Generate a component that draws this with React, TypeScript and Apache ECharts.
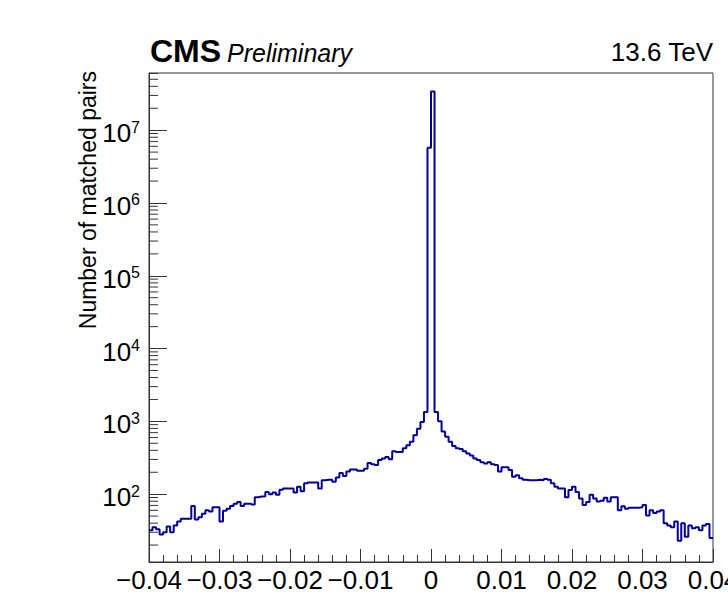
import React, { useEffect, useRef } from "react";
import * as echarts from "echarts";

// ---- data ----
const xMin = -0.04;
const xMax = 0.04;
const binWidth = 0.0005;
const xTickStep = 0.01;
const yMin = 11.7;
const yMax = 6.1e7;

// bins from -0.04 up to [0, 0.0005] (81 values)
const leftCounts = [
  32, 35, 33, 28, 30, 36, 30, 37, 42, 46,
  46, 46, 69, 45, 48, 54, 60, 58, 66, 66,
  42, 59, 63, 69, 74, 78, 69, 74, 74, 72,
  91, 93, 93, 107, 100, 105, 98, 115, 120, 120,
  120, 105, 126, 110, 141, 145, 145, 145, 120, 155,
  158, 158, 148, 170, 195, 178, 204, 219, 219, 209,
  209, 224, 269, 257, 251, 295, 309, 324, 302, 389,
  380, 380, 427, 468, 525, 646, 794, 977, 1349, 5750000,
  33900000,
];
// bins from 0.0005 to 0.04 (79 values)
const rightCounts = [
  1349, 1000, 724, 617, 525, 457, 427, 417, 389, 363,
  339, 309, 295, 275, 263, 275, 257, 251, 204, 234,
  234, 214, 174, 182, 166, 158, 155, 155, 155, 158,
  155, 162, 158, 141, 126, 120, 120, 91, 114, 126,
  107, 87, 71, 78, 98, 87, 79, 81, 89, 79,
  91, 91, 60, 68, 63, 65, 65, 65, 66, 71,
  51, 60, 55, 58, 60, 40, 37, 35, 42, 23,
  40, 26, 37, 34, 35, 32, 37, 39, 25,
];
const counts = [...leftCounts, ...rightCounts];

const yTitle = "Number of matched pairs";
const expText = "CMS";
const statusText = "Preliminary";
const energyText = "13.6 TeV";

const FONT = "'Liberation Sans', Arial, Helvetica, sans-serif";

export default function App() {
  const ref = useRef<HTMLDivElement>(null);

  useEffect(() => {
    if (!ref.current) return;
    const chart = echarts.init(ref.current, null, { renderer: "svg" });

    const stepData: [number, number][] = counts.map((v, i) => [xMin + i * binWidth, v]);
    stepData.push([xMax, counts[counts.length - 1]]);

    const minorTicks: [number, number][] = [];
    for (let e = 1; e <= 7; e++) {
      for (let m = 2; m <= 9; m++) {
        const v = m * Math.pow(10, e);
        if (v > yMin && v < yMax) minorTicks.push([xMin, v]);
      }
    }

    const option: any = {
      animation: false,
      backgroundColor: "#ffffff",
      grid: {
        left: 149,
        top: 73,
        width: 564,
        height: 489,
        show: true,
        borderColor: "#333",
        borderWidth: 1,
        backgroundColor: "transparent",
        containLabel: false,
        outerBoundsMode: "none",
      },
      xAxis: {
        type: "value",
        min: xMin,
        max: xMax,
        interval: xTickStep,
        axisLine: { show: true, onZero: false, lineStyle: { color: "#333", width: 1 } },
        axisTick: { show: true, inside: true, length: 13, lineStyle: { color: "#333" } },
        minorTick: { show: true, splitNumber: 5, length: 7, lineStyle: { color: "#333" } },
        splitLine: { show: false },
        axisLabel: {
          show: true,
          margin: 5,
          color: "#000",
          fontFamily: FONT,
          fontSize: 26,
          showMinLabel: true,
          showMaxLabel: true,
          hideOverlap: false,
          formatter: (v: number) => {
            if (Math.abs(v) < 1e-9) return "0";
            return (v < 0 ? "\u2212" : "") + Math.abs(v).toFixed(2);
          },
        },
      },
      yAxis: {
        type: "log",
        logBase: 10,
        min: yMin,
        max: yMax,
        axisLine: { show: true, onZero: false, lineStyle: { color: "#333", width: 1 } },
        axisTick: { show: true, inside: true, length: 18, lineStyle: { color: "#333" } },
        minorTick: { show: false },
        splitLine: { show: false },
        axisLabel: {
          show: true,
          margin: 9,
          showMinLabel: false,
          showMaxLabel: false,
          padding: [6, 0, 0, 0],
          formatter: (v: number) => {
            const l = Math.log10(v);
            const e = Math.round(l);
            if (Math.abs(l - e) > 1e-6) return "";
            return `{b|10}{s|${e}}`;
          },
          rich: {
            b: { fontFamily: FONT, fontSize: 26, color: "#000", lineHeight: 28 },
            s: { fontFamily: FONT, fontSize: 16, color: "#000", lineHeight: 16, verticalAlign: "top" },
          },
        },
      },
      series: [
        {
          type: "line",
          data: stepData,
          step: "end",
          showSymbol: false,
          symbol: "none",
          clip: true,
          lineStyle: { color: "#000099", width: 2 },
          z: 3,
        },
        {
          type: "custom",
          data: minorTicks,
          clip: false,
          z: 2,
          renderItem: (params: any, api: any) => {
            const p = api.coord([api.value(0), api.value(1)]);
            return {
              type: "line",
              shape: { x1: p[0], y1: p[1], x2: p[0] + 9, y2: p[1] },
              style: { stroke: "#333", lineWidth: 1 },
            };
          },
        },
      ],
      graphic: [
        {
          type: "text",
          x: 150,
          y: 51,
          style: { text: expText, fontFamily: FONT, fontWeight: "bold", fontSize: 32, fill: "#000", verticalAlign: "middle", align: "left" },
        },
        {
          type: "text",
          x: 227,
          y: 53,
          style: { text: statusText, fontFamily: FONT, fontStyle: "italic", fontSize: 25, fill: "#000", verticalAlign: "middle", align: "left" },
        },
        {
          type: "text",
          x: 713,
          y: 52,
          style: { text: energyText, fontFamily: FONT, fontSize: 26, fill: "#000", verticalAlign: "middle", align: "right" },
        },
        {
          type: "text",
          x: 88,
          y: 71,
          rotation: Math.PI / 2,
          style: { text: yTitle, fontFamily: FONT, fontSize: 23, fill: "#000", verticalAlign: "middle", align: "right" },
        },
      ],
    };

    chart.setOption(option);
    return () => chart.dispose();
  }, []);

  return (
    <div
      ref={ref}
      style={{ position: "fixed", left: 0, top: 0, width: 728, height: 595, background: "#fff" }}
    />
  );
}
